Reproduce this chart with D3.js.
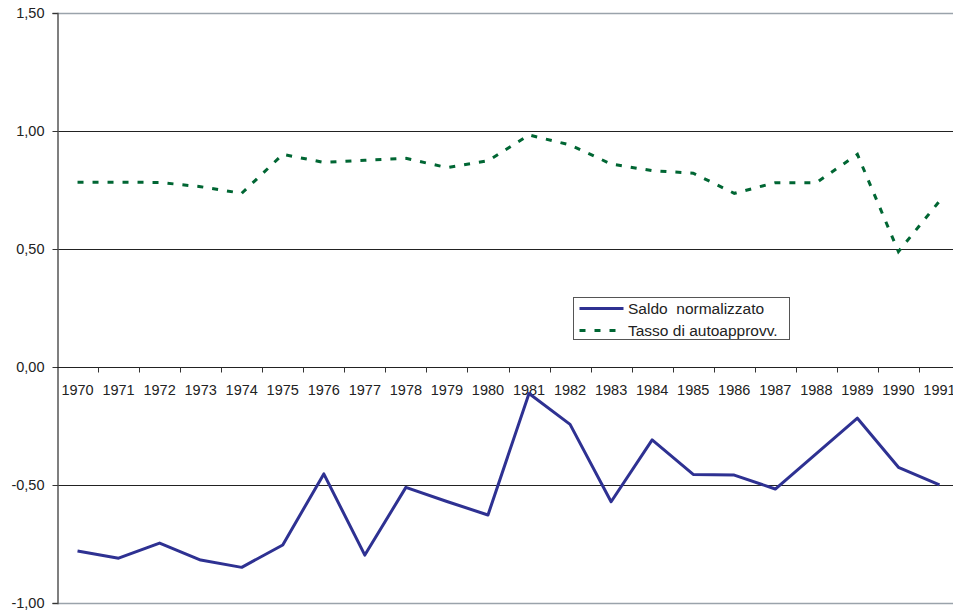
<!DOCTYPE html>
<html lang="it">
<head>
  <meta charset="utf-8">
  <title>Saldo normalizzato e tasso di autoapprovvigionamento</title>
  <script src="https://d3js.org/d3.v7.min.js"></script>
  <style>
    body {
      margin: 0;
      background: #fff;
      font-family: Arial, "Liberation Sans", sans-serif;
    }
    .grid {
      stroke: #222;
      stroke-width: 1px;
    }
    .edge {
      stroke: #9aa3ab;
      stroke-width: 1.5px;
    }
    .line {
      fill: none;
    }
    text {
      font-size: 14.5px;
      fill: #222;
    }
  </style>
</head>
<body>
<div id="chart"></div>

<script>
  // Data
  var years = ["1970", "1971", "1972", "1973", "1974", "1975", "1976", "1977", "1978", "1979", "1980",
               "1981", "1982", "1983", "1984", "1985", "1986", "1987", "1988", "1989", "1990", "1991"];

  var saldoNormalizzato = [-0.78, -0.81, -0.746, -0.818, -0.849, -0.754, -0.453, -0.797, -0.51, -0.57, -0.627,
                           -0.112, -0.243, -0.571, -0.309, -0.455, -0.458, -0.517, -0.367, -0.217, -0.425, -0.499];

  var tassoAutoapprovv = [0.783, 0.783, 0.782, 0.764, 0.736, 0.901, 0.867, 0.876, 0.884, 0.845, 0.874,
                          0.983, 0.941, 0.86, 0.832, 0.821, 0.736, 0.781, 0.781, 0.901, 0.489, 0.703];

  var yTicks = [-1, -0.5, 0, 0.5, 1, 1.5];
  var yTickLabels = ["-1,00", "-0,50", "0,00", "0,50", "1,00", "1,50"];

  var seriesNames = ["Saldo  normalizzato", "Tasso di autoapprovv."];

  var W = 953, H = 616;
  var margin = {left: 57, right: 960, top: 13, bottom: 603};

  var svg = d3.select("#chart")
    .append("svg")
    .attr("width", W)
    .attr("height", H);

  var x = d3.scaleBand()
    .domain(years)
    .range([margin.left, margin.right]);

  var y = d3.scaleLinear()
    .domain([-1, 1.5])
    .range([margin.bottom, margin.top]);

  // horizontal gridlines
  svg.append("g")
    .selectAll("line")
    .data(yTicks)
    .enter().append("line")
    .attr("class", d => (d === -1 || d === 1.5) ? "edge" : "grid")
    .attr("x1", margin.left)
    .attr("x2", W)
    .attr("y1", d => Math.round(y(d)) + 0.5)
    .attr("y2", d => Math.round(y(d)) + 0.5);

  // Y axis
  var yAxis = svg.append("g")
    .attr("transform", "translate(" + (margin.left + 0.5) + ",0)")
    .call(d3.axisLeft(y)
      .tickValues(yTicks)
      .tickSize(5)
      .tickPadding(8)
      .tickFormat((d, i) => yTickLabels[i]));
  yAxis.select(".domain").attr("stroke", "#555").attr("stroke-width", 1.5);
  yAxis.selectAll(".tick line").attr("stroke", "#333");
  yAxis.selectAll(".tick text")
    .style("font-size", "14.5px")
    .style("font-family", "Arial, 'Liberation Sans', sans-serif")
    .attr("fill", "#222");

  // X axis at zero, ticks between categories
  var y0 = Math.round(y(0)) + 0.5;
  var xAxisG = svg.append("g");
  xAxisG.append("line")
    .attr("x1", margin.left).attr("x2", W)
    .attr("y1", y0).attr("y2", y0)
    .attr("stroke", "#222");
  xAxisG.selectAll(".xt")
    .data(years.slice(1))
    .enter().append("line")
    .attr("class", "xt")
    .attr("x1", d => Math.round(x(d)) + 0.5)
    .attr("x2", d => Math.round(x(d)) + 0.5)
    .attr("y1", y0)
    .attr("y2", y0 + 5)
    .attr("stroke", "#333");
  xAxisG.selectAll(".xl")
    .data(years)
    .enter().append("text")
    .attr("class", "xl")
    .attr("x", d => x(d) + x.bandwidth() / 2)
    .attr("y", y0 + 27)
    .attr("text-anchor", "middle")
    .text(d => d);

  var line = d3.line()
    .x((d, i) => x(years[i]) + x.bandwidth() / 2)
    .y(d => y(d));

  svg.append("path")
    .datum(tassoAutoapprovv)
    .attr("class", "line")
    .attr("d", line)
    .attr("stroke", "#006633")
    .attr("stroke-width", 3)
    .attr("stroke-dasharray", "6,9");

  svg.append("path")
    .datum(saldoNormalizzato)
    .attr("class", "line")
    .attr("d", line)
    .attr("stroke", "#2e3192")
    .attr("stroke-width", 3)
    .attr("stroke-linejoin", "round");

  // Legend
  var legend = svg.append("g").attr("transform", "translate(573.5,297.5)");
  legend.append("rect")
    .attr("width", 216)
    .attr("height", 42)
    .attr("fill", "#fff")
    .attr("stroke", "#555");

  var legendStyles = [
    {color: "#2e3192", dash: null},
    {color: "#006633", dash: "6,9"}
  ];

  seriesNames.forEach(function(name, i) {
    var ly = 11 + i * 22;
    legend.append("line")
      .attr("x1", 6).attr("x2", 50)
      .attr("y1", ly).attr("y2", ly)
      .attr("stroke", legendStyles[i].color)
      .attr("stroke-width", 3)
      .attr("stroke-dasharray", legendStyles[i].dash);
    legend.append("text")
      .attr("x", 54.5)
      .attr("y", ly + 5.5)
      .style("font-size", "15.5px")
      .style("white-space", "pre")
      .text(name);
  });
</script>

</body>
</html>
